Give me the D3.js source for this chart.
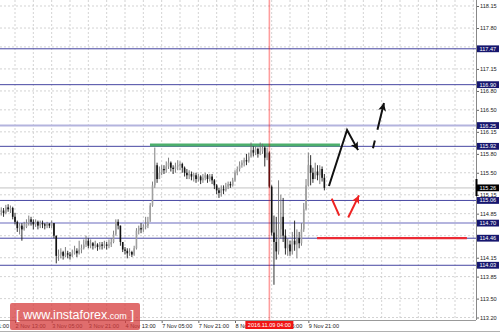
<!DOCTYPE html>
<html>
<head>
<meta charset="utf-8">
<script src="https://cdn.jsdelivr.net/npm/d3@7"></script>
<style>
  body { margin: 0; background: #fff; }
  svg { display: block; font-family: "Liberation Sans", Arial, sans-serif; }
</style>
</head>
<body>
<script>
// Chart settings
const width = 500;
const height = 334;
const plotRight = 476;
const plotBottom = 320;

// Price ticks on the right axis
const priceTicks = [118.15, 117.80, 117.50, 117.15, 116.80, 116.50, 116.15, 115.80,
                    115.50, 115.15, 114.85, 114.50, 114.15, 113.85, 113.50, 113.20];

// Time axis: bar index (H1, 0 = 2 Nov 13:00) and labels
const timeTicks = [-16, 0, 16, 32, 48, 64, 80, 96, 112, 128];
const timeLabels = ['1 Nov 21:00', '2 Nov 13:00', '3 Nov 05:00', '3 Nov 21:00', '4 Nov 13:00',
                    '7 Nov 05:00', '7 Nov 21:00', '8 Nov 13:00', '9 Nov 05:00', '9 Nov 21:00'];

// Horizontal levels: price, kind (dark / light)
const levelPrices = [117.47, 116.90, 116.25, 115.92, 115.06, 114.70, 114.46, 114.03];
const levelKinds  = ['dark', 'dark', 'light', 'dark', 'dark', 'light', 'dark', 'dark'];
const lastPrice = 115.26;

// Candles (H1), first bar index and open
const firstBar = -6;
const firstOpen = 114.88;
const closes = [
  114.90, 114.86, 114.95, 114.92, 114.94, 114.80,
  114.72, 114.62, 114.66, 114.60, 114.64, 114.70, 114.76, 114.72, 114.68, 114.72,
  114.66, 114.70, 114.68, 114.66, 114.69, 114.66, 114.70, 114.50, 114.18, 114.20,
  114.24, 114.18, 114.22, 114.20, 114.18, 114.22, 114.26, 114.22, 114.28, 114.30,
  114.36, 114.42, 114.34, 114.38, 114.34, 114.36, 114.32, 114.36, 114.34, 114.36,
  114.34, 114.36, 114.40, 114.52, 114.72, 114.66, 114.40, 114.28, 114.26, 114.22,
  114.24, 114.20, 114.30, 114.58, 114.62, 114.60, 114.64, 114.66, 114.72, 114.98,
  115.30, 115.62, 115.40, 115.50, 115.56, 115.54, 115.60, 115.66, 115.58, 115.56,
  115.60, 115.62, 115.64, 115.58, 115.50, 115.46, 115.48, 115.44, 115.46, 115.40,
  115.44, 115.38, 115.42, 115.46, 115.40, 115.44, 115.38, 115.30, 115.22, 115.18,
  115.24, 115.22, 115.28, 115.32, 115.30, 115.38, 115.50, 115.56, 115.62, 115.66,
  115.70, 115.68, 115.76, 115.86, 115.82, 115.88, 115.80, 115.84, 115.90, 115.74,
  115.82, 115.28, 114.55, 114.40, 114.25, 114.60, 114.80, 114.50, 114.30, 114.36,
  114.25, 114.42, 114.36, 114.46, 114.38, 114.60, 114.92, 115.30, 115.62, 115.50,
  115.40, 115.52, 115.46, 115.56, 115.42, 115.26
];
const highs = [
  114.95, 114.94, 114.99, 115.00, 114.98, 114.96,
  114.86, 114.74, 114.70, 114.70, 114.72, 114.76, 114.82, 114.80, 114.76, 114.76,
  114.74, 114.74, 114.74, 114.70, 114.72, 114.70, 114.74, 114.70, 114.50, 114.28,
  114.30, 114.26, 114.32, 114.26, 114.24, 114.28, 114.34, 114.30, 114.42, 114.36,
  114.44, 114.50, 114.46, 114.44, 114.40, 114.42, 114.38, 114.40, 114.40, 114.42,
  114.40, 114.44, 114.46, 114.58, 114.76, 114.76, 114.66, 114.40, 114.32, 114.30,
  114.30, 114.26, 114.34, 114.62, 114.66, 114.70, 114.68, 114.80, 114.80, 115.02,
  115.36, 115.90, 115.66, 115.60, 115.62, 115.62, 115.68, 115.74, 115.68, 115.62,
  115.66, 115.70, 115.68, 115.66, 115.60, 115.56, 115.54, 115.52, 115.50, 115.50,
  115.48, 115.46, 115.48, 115.50, 115.48, 115.48, 115.48, 115.40, 115.32, 115.26,
  115.30, 115.30, 115.34, 115.36, 115.36, 115.42, 115.54, 115.60, 115.68, 115.70,
  115.74, 115.80, 115.82, 115.98, 115.92, 115.92, 115.90, 115.98, 115.96, 115.92,
  115.90, 115.84, 115.30, 114.82, 114.80, 115.38, 115.15, 115.10, 114.60, 114.46,
  114.42, 114.56, 114.74, 114.60, 114.56, 114.70, 115.02, 115.40, 115.82, 115.78,
  115.58, 115.66, 115.62, 115.62, 115.60, 115.48
];
const lows = [
  114.82, 114.80, 114.84, 114.88, 114.86, 114.76,
  114.68, 114.56, 114.52, 114.42, 114.58, 114.62, 114.66, 114.66, 114.60, 114.64,
  114.60, 114.62, 114.62, 114.60, 114.62, 114.62, 114.62, 114.46, 114.06, 114.10,
  114.14, 114.12, 114.16, 114.14, 114.12, 114.16, 114.20, 114.16, 114.20, 114.22,
  114.28, 114.32, 114.30, 114.30, 114.28, 114.30, 114.26, 114.28, 114.28, 114.30,
  114.28, 114.30, 114.32, 114.38, 114.50, 114.60, 114.34, 114.24, 114.20, 114.14,
  114.18, 114.16, 114.18, 114.28, 114.52, 114.54, 114.56, 114.60, 114.62, 114.76,
  114.96, 115.26, 115.34, 115.40, 115.46, 115.48, 115.50, 115.56, 115.52, 115.48,
  115.50, 115.54, 115.54, 115.50, 115.44, 115.40, 115.40, 115.38, 115.36, 115.34,
  115.36, 115.32, 115.34, 115.38, 115.34, 115.36, 115.32, 115.24, 115.16, 115.10,
  115.12, 115.16, 115.20, 115.24, 115.26, 115.28, 115.36, 115.46, 115.52, 115.58,
  115.60, 115.62, 115.66, 115.74, 115.76, 115.78, 115.74, 115.78, 115.80, 115.60,
  115.70, 115.26, 114.50, 113.72, 114.12, 114.20, 114.45, 114.40, 114.20, 114.18,
  114.18, 114.20, 114.26, 114.14, 114.30, 114.34, 114.56, 114.90, 115.28, 115.30,
  115.34, 115.40, 115.38, 115.32, 115.36, 115.22
];

// Event marker (9 Nov 04:00)
const eventBar = 111;
const eventLabel = '2016.11.09 04:00';

// Drawn annotations: [bar, price]
const resistance = [[58.9, 115.94], [141.8, 115.94]];
const support = [[131.8, 114.46], [197.2, 114.46]];
const blackPath = [[137.0, 115.29], [144.9, 116.18], [149.7, 115.86]];
const blackDashed = [[156.2, 115.89], [161.0, 116.61]];
const redStroke = [[138.2, 115.09], [141.5, 114.82]];
const redArrow = [[145.4, 114.79], [150.1, 115.14]];

// Scales
const x = d3.scaleLinear().domain([0, 8]).range([15, 15 + 55 / 3]);
const y = d3.scaleLinear().domain([113.20, 118.15]).range([317.5, 6]);

const svg = d3.select('body').append('svg')
  .attr('width', width)
  .attr('height', height);

svg.append('rect').attr('width', width).attr('height', height).attr('fill', '#fff');

const defs = svg.append('defs');
defs.append('clipPath').attr('id', 'plot')
  .append('rect').attr('width', plotRight).attr('height', plotBottom);
[['head-black', '#111'], ['head-red', '#ee2222']].forEach(([id, col]) => {
  defs.append('marker')
    .attr('id', id)
    .attr('markerUnits', 'userSpaceOnUse')
    .attr('markerWidth', 10).attr('markerHeight', 10)
    .attr('refX', 8).attr('refY', 4)
    .attr('orient', 'auto')
    .append('path')
    .attr('d', 'M0,0 L8,4 L0,8 L2,4 Z')
    .attr('fill', col);
});

const plot = svg.append('g').attr('clip-path', 'url(#plot)');

// Grid
plot.append('g')
  .selectAll('line')
  .data(d3.range(-8, 208, 8))
  .join('line')
  .attr('x1', d => x(d)).attr('x2', d => x(d))
  .attr('y1', 0).attr('y2', plotBottom)
  .attr('stroke', '#c8c8c8').attr('stroke-width', 0.8)
  .attr('stroke-dasharray', '2,2');

plot.append('g')
  .selectAll('line')
  .data(priceTicks)
  .join('line')
  .attr('x1', 0).attr('x2', plotRight)
  .attr('y1', d => y(d)).attr('y2', d => y(d))
  .attr('stroke', '#c8c8c8').attr('stroke-width', 0.8)
  .attr('stroke-dasharray', '2,2');

// Levels
plot.append('g')
  .selectAll('line')
  .data(levelPrices)
  .join('line')
  .attr('x1', 0).attr('x2', plotRight)
  .attr('y1', d => y(d)).attr('y2', d => y(d))
  .attr('stroke', (d, i) => levelKinds[i] === 'dark' ? '#4646a2' : '#b4b4de')
  .attr('stroke-width', (d, i) => levelKinds[i] === 'dark' ? 1 : 2);

plot.append('line')
  .attr('x1', 0).attr('x2', plotRight)
  .attr('y1', y(lastPrice)).attr('y2', y(lastPrice))
  .attr('stroke', '#dcdcdc').attr('stroke-width', 1.6);

const line = d3.line().x(d => x(d[0])).y(d => y(d[1]));

plot.append('path')
  .attr('d', line(resistance))
  .attr('stroke', '#4cae6c').attr('stroke-width', 3).attr('fill', 'none');

// Candles
const bars = closes.map((c, i) => ({
  b: firstBar + i,
  o: i === 0 ? firstOpen : closes[i - 1],
  c: c, h: highs[i], l: lows[i]
}));

const candle = plot.append('g')
  .selectAll('g')
  .data(bars)
  .join('g');

candle.append('line')
  .attr('x1', d => x(d.b)).attr('x2', d => x(d.b))
  .attr('y1', d => y(d.h)).attr('y2', d => y(d.l))
  .attr('stroke', d => d.c >= d.o ? '#707070' : '#1a1a1a')
  .attr('stroke-width', 0.9);

candle.append('rect')
  .attr('x', d => x(d.b) - 0.8)
  .attr('width', 1.6)
  .attr('y', d => y(Math.max(d.o, d.c)))
  .attr('height', d => Math.max(0.7, Math.abs(y(d.o) - y(d.c))))
  .attr('fill', d => d.c >= d.o ? '#a0a0a0' : '#111');

// Event line
plot.append('line')
  .attr('x1', x(eventBar)).attr('x2', x(eventBar))
  .attr('y1', 0).attr('y2', plotBottom)
  .attr('stroke', '#ff0000').attr('stroke-opacity', 0.38).attr('stroke-width', 1.6);

plot.append('path')
  .attr('d', line(support))
  .attr('stroke', '#ec2a34').attr('stroke-width', 2.2).attr('fill', 'none');

// Arrows
plot.append('path')
  .attr('d', line(blackPath))
  .attr('stroke', '#111').attr('stroke-width', 2).attr('fill', 'none')
  .attr('stroke-linejoin', 'miter')
  .attr('marker-end', 'url(#head-black)');

plot.append('path')
  .attr('d', line(blackDashed))
  .attr('stroke', '#111').attr('stroke-width', 2).attr('fill', 'none')
  .attr('stroke-dasharray', '8,11,80')
  .attr('marker-end', 'url(#head-black)');

plot.append('path')
  .attr('d', line(redStroke))
  .attr('stroke', '#ee2222').attr('stroke-width', 2).attr('fill', 'none');

plot.append('path')
  .attr('d', line(redArrow))
  .attr('stroke', '#ee2222').attr('stroke-width', 2).attr('fill', 'none')
  .attr('marker-end', 'url(#head-red)');

// Right axis (labels hidden behind a level box are skipped)
const boxPrices = levelPrices.concat([lastPrice]);
const covered = d => boxPrices.some(p => Math.abs(y(p) - y(d)) < 4);
const yAxis = svg.append('g')
  .attr('transform', `translate(${plotRight}, 0)`)
  .call(d3.axisRight(y).tickValues(priceTicks).tickSize(3).tickPadding(1)
    .tickFormat(d => covered(d) ? '' : d3.format('.2f')(d)))
  .call(g => g.select('.domain').remove());
yAxis.selectAll('line').attr('stroke', '#666');
yAxis.selectAll('text').attr('font-size', 5.6).attr('fill', '#222').attr('font-family', null);

svg.append('line')
  .attr('x1', plotRight + 0.5).attr('x2', plotRight + 0.5)
  .attr('y1', 0).attr('y2', plotBottom)
  .attr('stroke', '#888');

svg.append('line')
  .attr('x1', plotRight + 0.5).attr('x2', plotRight + 0.5)
  .attr('y1', y(115.40)).attr('y2', y(115.13))
  .attr('stroke', '#000').attr('stroke-width', 2);

// Bottom axis
const xAxis = svg.append('g')
  .attr('transform', `translate(0, ${plotBottom})`)
  .call(d3.axisBottom(x).tickValues(timeTicks).tickSize(3)
    .tickFormat((d, i) => timeLabels[i]))
  .call(g => g.select('.domain').remove());
xAxis.selectAll('line').attr('stroke', '#666');
xAxis.selectAll('text')
  .attr('text-anchor', 'start')
  .attr('y', 4)
  .attr('font-size', 5.6).attr('fill', '#222').attr('font-family', null);

svg.append('line')
  .attr('x1', 0).attr('x2', plotRight)
  .attr('y1', plotBottom + 0.5).attr('y2', plotBottom + 0.5)
  .attr('stroke', '#999');

svg.append('line')
  .attr('x1', 0).attr('x2', width)
  .attr('y1', 331.5).attr('y2', 331.5)
  .attr('stroke', '#b0b0b0');

// Event label
const ev = svg.append('g').attr('transform', `translate(${x(eventBar)}, ${plotBottom + 1})`);
ev.append('rect')
  .attr('x', -24).attr('y', 0).attr('width', 48).attr('height', 8)
  .attr('fill', '#f01414');
ev.append('text')
  .attr('text-anchor', 'middle').attr('y', 6)
  .attr('font-size', 5.6).attr('fill', '#fff')
  .text(eventLabel);

// Price boxes
const boxData = levelPrices.map(p => ({ p, fill: '#16166e' }))
  .concat([{ p: lastPrice, fill: '#000' }]);

const box = svg.append('g')
  .selectAll('g')
  .data(boxData)
  .join('g')
  .attr('transform', d => `translate(${plotRight + 1}, ${y(d.p)})`);
box.append('rect')
  .attr('x', 0).attr('y', -3.4).attr('width', 22).attr('height', 6.8)
  .attr('fill', d => d.fill);
box.append('text')
  .attr('x', 2.5).attr('dy', '0.35em')
  .attr('font-size', 5.6).attr('fill', '#fff')
  .text(d => d3.format('.2f')(d.p));

// Watermark
const wm = svg.append('g');
wm.append('rect')
  .attr('x', 10).attr('y', 303).attr('width', 130).attr('height', 27).attr('rx', 2)
  .attr('fill', '#d63c3c').attr('opacity', 0.75);
const wt = wm.append('text')
  .attr('x', 16).attr('y', 319)
  .attr('fill', '#fff');
wt.append('tspan').attr('font-size', 13).text('[ ');
wt.append('tspan').attr('font-size', 12.5).text('www.instaforex');
wt.append('tspan').attr('font-size', 9).text('.com');
wt.append('tspan').attr('font-size', 13).text(' ]');
</script>
</body>
</html>
